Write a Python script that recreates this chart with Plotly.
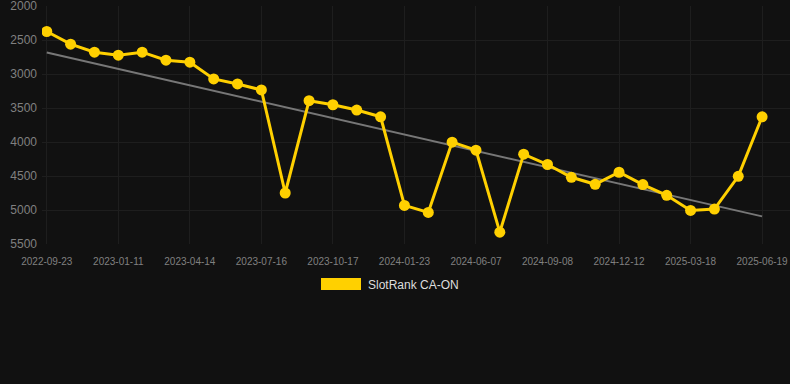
import plotly.graph_objects as go

dates = ["2022-09-23", "2022-10-24", "2022-12-07", "2023-01-11", "2023-02-11", "2023-03-14",
         "2023-04-14", "2023-05-15", "2023-06-15", "2023-07-16", "2023-08-16", "2023-09-16",
         "2023-10-17", "2023-11-17", "2023-12-19", "2024-01-23", "2024-03-10", "2024-04-24",
         "2024-06-07", "2024-07-08", "2024-08-08", "2024-09-08", "2024-10-10", "2024-11-10",
         "2024-12-12", "2025-01-13", "2025-02-14", "2025-03-18", "2025-04-18", "2025-05-19",
         "2025-06-19"]
ranks = [2375, 2561, 2679, 2723, 2679, 2797, 2826, 3073, 3146, 3235,
         4750, 3393, 3452, 3530, 3629, 4932, 5035, 4002, 4120, 5326,
         4179, 4331, 4519, 4622, 4445, 4626, 4784, 5006, 4986, 4504, 3629]
trend_dates = [dates[0], dates[-1]]
trend_values = [2685, 5094]
tick_labels = dates[::3]
y_ticks = [2000, 2500, 3000, 3500, 4000, 4500, 5000, 5500]
series_name = "SlotRank CA-ON"

fig = go.Figure()
fig.add_trace(go.Scatter(x=trend_dates, y=trend_values, mode="lines",
                         line=dict(color="#777777", width=2), showlegend=False, hoverinfo="skip"))
fig.add_trace(go.Scatter(x=dates, y=ranks, mode="lines+markers", name=series_name,
                         line=dict(color="#FFD000", width=3),
                         marker=dict(color="#FFD000", size=11), showlegend=False))

# legend drawn manually (paper coords: plot area x 42..790, y 6..244)
def px_x(x):
    return (x - 42) / 748

def px_y(y):
    return (244 - y) / 238

fig.add_shape(type="rect", xref="paper", yref="paper", x0=px_x(321), x1=px_x(361),
              y0=px_y(290), y1=px_y(278), fillcolor="#FFD000", line=dict(width=0))
fig.add_annotation(xref="paper", yref="paper", x=px_x(366), y=px_y(284.5),
                   text=series_name, showarrow=False, xanchor="left", yanchor="middle",
                   font=dict(color="#dddddd", size=12, family="Liberation Sans, Arial, sans-serif"))

fig.update_layout(
    width=790, height=384,
    paper_bgcolor="#111111", plot_bgcolor="#111111",
    margin=dict(l=42, r=0, t=6, b=140),
    font=dict(family="Liberation Sans, Arial, sans-serif", color="#808080"),
    xaxis=dict(type="category", categoryorder="array", categoryarray=dates,
               range=[-0.2, 31.17], tickmode="array", tickvals=tick_labels,
               ticktext=tick_labels, showgrid=True, gridcolor="#1e1e1e", zeroline=False,
               showline=False, tickfont=dict(size=10, color="#808080"), ticks="",
               ticklabelstandoff=10),
    yaxis=dict(range=[5500, 2000], tickvals=y_ticks, showgrid=True, gridcolor="#1e1e1e",
               zeroline=False, showline=False, tickfont=dict(size=12, color="#808080"), ticks="",
               ticklabelstandoff=4, ticklabeloverflow="allow"),
    showlegend=False,
)

fig.write_html("out.html", config={"displayModeBar": False},
               post_script="document.body.style.margin='0';document.body.style.padding='0';document.body.style.background='#111111';")
